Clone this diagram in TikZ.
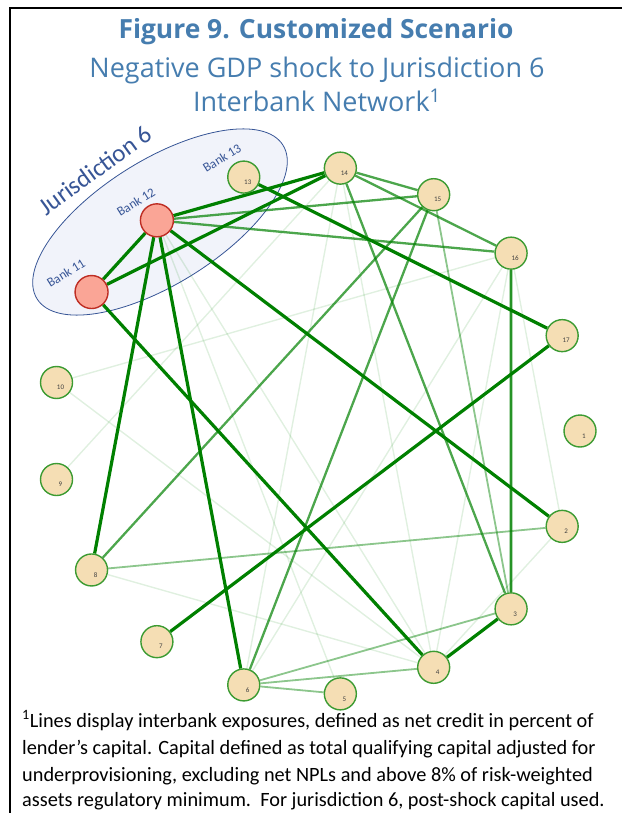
\documentclass[tikz,border=0pt]{standalone}
\usepackage{fontspec}
\setmainfont{Carlito}
\newfontfamily\headfont{Open Sans}
\usetikzlibrary{shapes.geometric,backgrounds}
\definecolor{titleblue}{RGB}{70,125,175}
\definecolor{jurblue}{RGB}{55,85,150}
\definecolor{linkgreen}{RGB}{0,128,0}
\definecolor{bankfill}{RGB}{245,222,180}
\definecolor{bankrim}{RGB}{60,155,50}
\definecolor{shockfill}{RGB}{250,165,150}
\definecolor{shockrim}{RGB}{190,45,35}
\definecolor{jurfill}{RGB}{241,243,250}

\begin{document}
\begin{tikzpicture}[x=1pt,y=-1pt]
    \tikzstyle{bank}=[circle,draw=bankrim,fill=bankfill,line width=1.4pt,minimum size=32pt,inner sep=0pt]
    \tikzstyle{shocked bank}=[bank,draw=shockrim,fill=shockfill,minimum size=33pt]
    \tikzstyle{num}=[text=black!75,font=\fontsize{7}{7}\selectfont,inner sep=0pt,xshift=4pt,yshift=-5pt]
    \tikzstyle{heavy link}=[draw=linkgreen,line width=3.2pt]
    \tikzstyle{medium link}=[draw=linkgreen,line width=2.3pt,draw opacity=0.7]
    \tikzstyle{light link}=[draw=linkgreen,line width=1.8pt,draw opacity=0.45]
    \tikzstyle{faint link}=[draw=linkgreen,line width=1.4pt,draw opacity=0.12]
    \tikzstyle{bank label}=[text=jurblue,font=\fontsize{13}{13}\selectfont,rotate=32]
    \tikzstyle{note}=[anchor=base west,font=\fontsize{20.3}{20}\selectfont,inner sep=0pt]

    \useasboundingbox (0,0) rectangle (622,813);
    \draw[line width=2pt] (10,813) -- (10,8) -- (622,8);

    % Titles
    \node[anchor=base,text=titleblue,font=\headfont\bfseries\fontsize{26.4}{30}\selectfont] (title) at (316,39) {Figure 9. Customized Scenario};
    \node[anchor=base,text=titleblue,font=\headfont\fontsize{27}{30}\selectfont] (sub) at (317,78) {Negative GDP shock to Jurisdiction 6};
    \node[anchor=base,text=titleblue,font=\headfont\fontsize{27}{30}\selectfont] (net) at (317,112) {Interbank Network\textsuperscript{1}};

    % Draw the banks round the circle
    \foreach \k in {1,2,3,4,5,6,7,8,9,10,13,14,15,16,17}
        \node[bank,label={[num]center:\k}] (B-\k) at ([shift={({(\k-1)*360/17}:264)}]316,431) {};
    \foreach \k in {11,12}
        \node[shocked bank] (B-\k) at ([shift={({(\k-1)*360/17}:264)}]316,431) {};

    \begin{scope}[on background layer]
    % Jurisdiction 6
    \node[ellipse,draw=jurblue,fill=jurfill,line width=0.8pt,minimum width=290pt,minimum height=124pt,rotate=32] (jur) at (160,222) {};

    % Connect the banks
    \foreach \a/\b in {16/10,10/4,9/14,8/4,14/4,14/6,16/6,16/2,16/4,12/4,12/5,2/4}
        \draw[faint link] (B-\a) -- (B-\b);
    \foreach \a/\b in {8/2,6/3,6/5,15/3,6/4}
        \draw[light link] (B-\a) -- (B-\b);
    \foreach \a/\b in {15/6,14/15,15/8,14/3,12/15,12/16,14/16}
        \draw[medium link] (B-\a) -- (B-\b);
    \draw[heavy link,line width=2.8pt,draw opacity=0.85] (B-16) -- (B-3);
    \foreach \a/\b in {12/11,11/14,12/14,12/8,12/6,12/2,11/4,13/17,17/7,3/4}
        \draw[heavy link] (B-\a) -- (B-\b);
    \end{scope}

    % Annotate the jurisdiction
    \node[text=jurblue,font=\fontsize{25}{25}\selectfont,rotate=36] (jl) at (95,170) {Jurisdiction 6};
    \node[bank label] (l11) at (66,273) {Bank 11};
    \node[bank label] (l12) at (136,202) {Bank 12};
    \node[bank label] (l13) at (222,158) {Bank 13};

    % Footnote
    \node[note] (n1) at (22,727) {\textsuperscript{1}Lines display interbank exposures, defined as net credit in percent of};
    \node[note] (n2) at (22,754) {lender’s capital. Capital defined as total qualifying capital adjusted for};
    \node[note] (n3) at (22,781) {underprovisioning, excluding net NPLs and above 8\% of risk-weighted};
    \node[note] (n4) at (22,806) {assets regulatory minimum.\ \ For jurisdiction 6, post-shock capital used.};
\end{tikzpicture}
\end{document}
